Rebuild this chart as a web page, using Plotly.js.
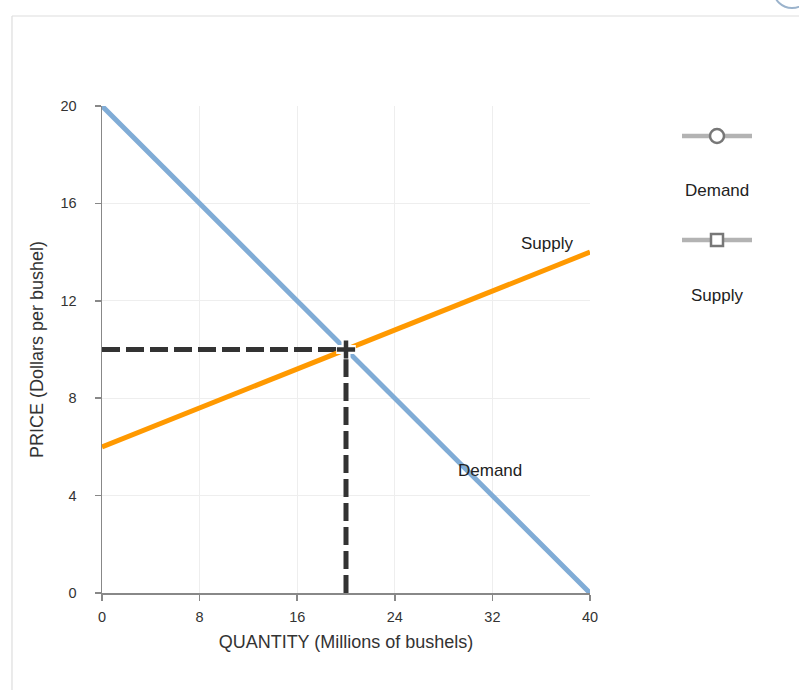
<!DOCTYPE html>
<html>
<head>
<meta charset="utf-8">
<script src="https://cdn.plot.ly/plotly-3.0.1.min.js"></script>
<style>
html,body{margin:0;padding:0;background:#fff;}
#chart{width:799px;height:690px;}
</style>
</head>
<body>
<div id="chart"></div>
<script>
// Data
const demandQ = [0, 40];
const demandP = [20, 0];
const supplyQ = [0, 40];
const supplyP = [6, 14];
const eqQ = [20];
const eqP = [10];
const priceGuideQ = [0, 20];
const priceGuideP = [10, 10];
const qtyGuideQ = [20, 20];
const qtyGuideP = [0, 10];
const xTicks = [0, 8, 16, 24, 32, 40];
const yTicks = [0, 4, 8, 12, 16, 20];
const labels = {supply: "Supply", demand: "Demand"};
const supplyLabelPos = [36.5, 14.35];
const demandLabelPos = [31.8, 5.05];

// layout geometry (pixels)
const W = 799, H = 690;
const M = {l: 102, r: 209, t: 106, b: 97};
const PW = W - M.l - M.r, PH = H - M.t - M.b;
const px = x => (x - M.l) / PW;
const py = y => (H - M.b - y) / PH;

const blue = "#80acd6";
const orange = "#ff9900";
const dark = "#333333";
const legGray = "#b3b3b3";
const legEdge = "#777777";

const traces = [
  {x: priceGuideQ, y: priceGuideP, mode: "lines", line: {color: dark, width: 5, dash: "18px,6px"}, hoverinfo: "skip", showlegend: false},
  {x: qtyGuideQ, y: qtyGuideP, mode: "lines", line: {color: dark, width: 5, dash: "18px,6px"}, hoverinfo: "skip", showlegend: false},
  {x: demandQ, y: demandP, mode: "lines", name: labels.demand, line: {color: blue, width: 5}, showlegend: false},
  {x: supplyQ, y: supplyP, mode: "lines", name: labels.supply, line: {color: orange, width: 5}, showlegend: false},
  {x: eqQ, y: eqP, mode: "markers", marker: {symbol: "cross-thin", size: 14, line: {color: "#ffffff", width: 9}}, hoverinfo: "skip", showlegend: false},
  {x: eqQ, y: eqP, mode: "markers", marker: {symbol: "cross-thin", size: 13, line: {color: dark, width: 4.5}}, hoverinfo: "skip", showlegend: false}
];

const shapes = [
  // page frame lines
  {type: "line", xref: "paper", yref: "paper", x0: px(12), x1: px(799), y0: py(16), y1: py(16), line: {color: "#dddddd", width: 1.2}},
  {type: "line", xref: "paper", yref: "paper", x0: px(12), x1: px(12), y0: py(16), y1: py(690), line: {color: "#dddddd", width: 1.2}},
  // help circle (partially visible)
  {type: "circle", xref: "paper", yref: "paper", x0: px(774), x1: px(810), y0: py(-26), y1: py(8), line: {color: "#9bb3cc", width: 2}, fillcolor: "rgba(0,0,0,0)"},
  // legend: demand
  {type: "line", xref: "paper", yref: "paper", x0: px(682), x1: px(752), y0: py(136), y1: py(136), line: {color: legGray, width: 4.5}},
  {type: "circle", xref: "paper", yref: "paper", x0: px(710), x1: px(724), y0: py(129), y1: py(143), line: {color: legEdge, width: 2.5}, fillcolor: "#ffffff"},
  // legend: supply
  {type: "line", xref: "paper", yref: "paper", x0: px(682), x1: px(752), y0: py(240), y1: py(240), line: {color: legGray, width: 4.5}},
  {type: "rect", xref: "paper", yref: "paper", x0: px(711), x1: px(723), y0: py(234), y1: py(246), line: {color: legEdge, width: 2.5}, fillcolor: "#ffffff"}
];

const FAM = "Liberation Sans, Arial, sans-serif";
const annFont = {family: FAM, size: 17, color: "#222222"};
const annotations = [
  {x: supplyLabelPos[0], y: supplyLabelPos[1], xref: "x", yref: "y", xanchor: "center", yanchor: "middle", text: labels.supply, showarrow: false, font: annFont},
  {x: demandLabelPos[0], y: demandLabelPos[1], xref: "x", yref: "y", xanchor: "center", yanchor: "middle", text: labels.demand, showarrow: false, font: annFont},
  {x: px(717), y: py(190), xref: "paper", yref: "paper", xanchor: "center", yanchor: "middle", text: labels.demand, showarrow: false, font: annFont},
  {x: px(717), y: py(295), xref: "paper", yref: "paper", xanchor: "center", yanchor: "middle", text: labels.supply, showarrow: false, font: annFont}
];

const tickFont = {family: FAM, size: 14.5, color: "#333333"};
const titleFont = {family: FAM, size: 18, color: "#333333"};

const layout = {
  width: W, height: H,
  margin: M,
  paper_bgcolor: "#ffffff",
  plot_bgcolor: "#ffffff",
  showlegend: false,
  xaxis: {
    range: [0, 40], tickvals: xTicks, ticktext: xTicks.map(String),
    showgrid: true, gridcolor: "#eeeeee", gridwidth: 1,
    zeroline: false, showline: true, linecolor: "#888888", linewidth: 1.5,
    ticks: "outside", ticklen: 6, tickcolor: "#888888", tickwidth: 1.5,
    ticklabelstandoff: 4,
    tickfont: tickFont,
    title: {text: "QUANTITY (Millions of bushels)", font: titleFont, standoff: 11},
    fixedrange: true
  },
  yaxis: {
    range: [0, 20], tickvals: yTicks, ticktext: yTicks.map(String),
    showgrid: true, gridcolor: "#eeeeee", gridwidth: 1,
    zeroline: false, showline: true, linecolor: "#888888", linewidth: 1.5,
    ticks: "outside", ticklen: 6, tickcolor: "#888888", tickwidth: 1.5,
    ticklabelstandoff: 15,
    tickfont: tickFont,
    title: {text: "PRICE (Dollars per bushel)", font: titleFont, standoff: 12},
    fixedrange: true
  },
  shapes: shapes,
  annotations: annotations
};

Plotly.newPlot("chart", traces, layout, {displayModeBar: false, staticPlot: true});
</script>
</body>
</html>
